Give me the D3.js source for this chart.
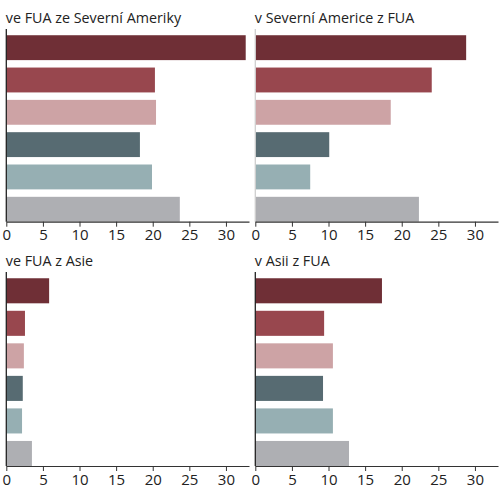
<!DOCTYPE html>
<html><head><meta charset="utf-8">
<script src="https://cdn.jsdelivr.net/npm/d3@7"></script>
<style>body{margin:0;background:#fff}svg{display:block}</style>
</head><body>
<script>
const categories = ["c1","c2","c3","c4","c5","c6"];
const colors = ["#6f2f36","#98474e","#cda3a5","#576b72","#96afb3","#aeafb3"];
const titles = ["ve FUA ze Severní Ameriky","v Severní Americe z FUA","ve FUA z Asie","v Asii z FUA"];
const valsNAin = [32.7, 20.3, 20.45, 18.25, 19.9, 23.7];
const valsNAout = [28.8, 24.1, 18.5, 10.1, 7.5, 22.35];
const valsAsiaIn = [5.85, 2.55, 2.4, 2.25, 2.15, 3.5];
const valsAsiaOut = [17.3, 9.4, 10.6, 9.25, 10.6, 12.8];
const tickVals = [0,5,10,15,20,25,30];

const panels = [
  {title: titles[0], vals: valsNAin, x0: 6.3, top: 29, bottom: 221.7, axisColor: "#222"},
  {title: titles[1], vals: valsNAout, x0: 255.3, top: 29, bottom: 221.7, axisColor: "#cfcfcf"},
  {title: titles[2], vals: valsAsiaIn, x0: 6.3, top: 272, bottom: 466, axisColor: "#222"},
  {title: titles[3], vals: valsAsiaOut, x0: 255.3, top: 272, bottom: 466, axisColor: "#222"}
];

const svg = d3.select("body").append("svg").attr("width",499).attr("height",491);
const font = "'Open Sans', sans-serif";

panels.forEach(p => {
  const x = d3.scaleLinear().domain([0, 33.15]).range([p.x0, p.x0 + 242.7]);
  const y = d3.scaleBand().domain(categories).range([p.top + 3, p.bottom]).paddingInner(0.23).paddingOuter(0.05).align(1);
  const g = svg.append("g");
  g.selectAll("rect").data(p.vals).join("rect")
    .attr("x", x(0)).attr("y", (d,i) => y(categories[i]))
    .attr("width", d => x(d) - x(0)).attr("height", y.bandwidth())
    .attr("fill", (d,i) => colors[i]);
  g.append("line").attr("x1", x(0)).attr("x2", x(0)).attr("y1", p.top).attr("y2", p.bottom)
    .attr("stroke", p.axisColor).attr("stroke-width", 1.3);
  const ax = g.append("g").attr("transform", `translate(0,${p.bottom})`)
    .call(d3.axisBottom(x).tickValues(tickVals).tickSize(5).tickPadding(3).tickSizeOuter(0));
  ax.select(".domain").attr("stroke", "#333").attr("stroke-width", 1.2);
  ax.selectAll(".tick line").attr("stroke", "#333");
  ax.selectAll("text").attr("font-family", font).attr("font-size", 15).attr("fill", "#222");
  g.append("text").attr("x", p.x0 - 0.5).attr("y", p.top - 6).text(p.title)
    .attr("font-family", font).attr("font-size", 14.3).attr("fill", "#222");
});
</script>
</body></html>
